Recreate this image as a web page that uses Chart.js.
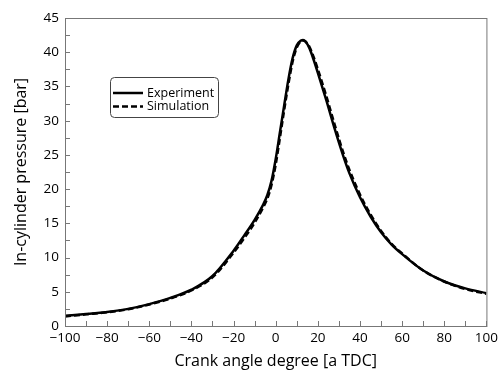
<!DOCTYPE html>
<html>
<head>
<meta charset="utf-8">
<script src="https://cdn.jsdelivr.net/npm/chart.js@4"></script>
<style>
  html, body { margin: 0; padding: 0; background: #fff; }
  #wrap { width: 502px; height: 371px; }
</style>
</head>
<body>
<div id="wrap"><canvas id="c" width="502" height="371"></canvas></div>
<script>
// crank angle [deg aTDC]
const angles = [-100, -90, -80, -70, -60, -50, -40, -30, -20, -15, -10, -6, -4, -2, 0, 2, 4, 6, 8, 10, 12, 13, 14, 16, 18, 20, 24, 28, 32, 35, 40, 45, 50, 55, 60, 70, 80, 90, 100];
// in-cylinder pressure [bar]
const experiment = [1.5, 1.75, 2.05, 2.5, 3.2, 4.1, 5.3, 7.3, 11.0, 13.2, 15.5, 17.7, 19.1, 21.2, 24.4, 28.3, 32.2, 36.0, 39.1, 41.0, 41.7, 41.8, 41.6, 40.6, 38.9, 37.0, 33.0, 28.8, 24.9, 22.3, 18.8, 16.0, 13.7, 11.9, 10.5, 8.1, 6.5, 5.5, 4.8];
const simulation = [1.4, 1.7, 2.0, 2.45, 3.15, 4.0, 5.2, 7.1, 10.7, 12.8, 15.1, 17.3, 18.6, 20.6, 23.6, 27.5, 31.5, 35.3, 38.6, 40.7, 41.6, 41.7, 41.6, 40.8, 39.3, 37.5, 33.6, 29.4, 25.4, 22.8, 19.2, 16.3, 13.9, 12.0, 10.6, 8.1, 6.5, 5.4, 4.7];

const FONT = '"Open Sans", sans-serif';

const frame = {
  id: 'frame',
  afterDraw(chart) {
    const { ctx, chartArea: a, scales: { x, y } } = chart;
    ctx.save();
    ctx.strokeStyle = '#777';
    ctx.lineWidth = 1;
    ctx.strokeRect(a.left + 0.5, a.top + 0.5, a.right - a.left, a.bottom - a.top);
    // inward ticks
    ctx.beginPath();
    for (let v = -100; v <= 100; v += 10) {
      const px = Math.round(x.getPixelForValue(v)) + 0.5;
      ctx.moveTo(px, a.bottom); ctx.lineTo(px, a.bottom - 5);
    }
    for (let v = 0; v <= 45; v += 2.5) {
      const py = Math.round(y.getPixelForValue(v)) + 0.5;
      ctx.moveTo(a.left, py); ctx.lineTo(a.left + 5, py);
    }
    ctx.stroke();

    // legend box
    const bx = 110, by = 77, bw = 108, bh = 40;
    ctx.beginPath();
    ctx.roundRect(bx + 0.5, by + 0.5, bw, bh, 4);
    ctx.fillStyle = '#fff';
    ctx.fill();
    ctx.strokeStyle = '#444';
    ctx.stroke();
    ctx.font = '12.5px ' + FONT;
    ctx.textBaseline = 'middle';
    chart.data.datasets.forEach((ds, i) => {
      const ly = by + 16 + i * 13.5;
      ctx.beginPath();
      ctx.setLineDash(ds.borderDash || []);
      ctx.lineWidth = 2.5;
      ctx.strokeStyle = '#000';
      ctx.moveTo(bx + 3, ly); ctx.lineTo(bx + 33, ly);
      ctx.stroke();
      ctx.setLineDash([]);
      ctx.fillStyle = '#000';
      ctx.fillText(ds.label, bx + 37, ly);
    });
    ctx.restore();
  }
};

new Chart(document.getElementById('c'), {
  type: 'line',
  data: {
    datasets: [
      {
        label: 'Experiment',
        data: angles.map((a, i) => ({ x: a, y: experiment[i] })),
        borderColor: '#000',
        borderWidth: 2.5,
        pointRadius: 0,
        cubicInterpolationMode: 'monotone'
      },
      {
        label: 'Simulation',
        data: angles.map((a, i) => ({ x: a, y: simulation[i] })),
        borderColor: '#000',
        borderWidth: 2.5,
        borderDash: [6, 3],
        pointRadius: 0,
        cubicInterpolationMode: 'monotone'
      }
    ]
  },
  options: {
    responsive: false,
    animation: false,
    layout: { padding: { top: 18, right: 11, left: 12, bottom: 0 } },
    plugins: { legend: { display: false }, tooltip: { enabled: false } },
    scales: {
      x: {
        type: 'linear',
        min: -100, max: 100,
        grid: { display: false, drawTicks: false },
        border: { display: false },
        ticks: {
          stepSize: 20, color: '#000', font: { family: FONT, size: 13.5 }, padding: 4,
          callback: v => String(v).replace('-', '\u2212')
        },
        title: { display: true, text: 'Crank angle degree [a TDC]', color: '#000', font: { family: FONT, size: 16 }, padding: { top: 0, bottom: 0 } },
        afterFit(s) { s.height = 45; }
      },
      y: {
        min: 0, max: 45,
        grid: { display: false, drawTicks: false },
        border: { display: false },
        ticks: { stepSize: 5, color: '#000', font: { family: FONT, size: 13.5 }, padding: 6 },
        title: { display: true, text: 'In-cylinder pressure [bar]', color: '#000', font: { family: FONT, size: 16 }, padding: { top: 0, bottom: 0 } },
        afterFit(s) { s.width = 53; }
      }
    }
  },
  plugins: [frame]
});
</script>
</body>
</html>
